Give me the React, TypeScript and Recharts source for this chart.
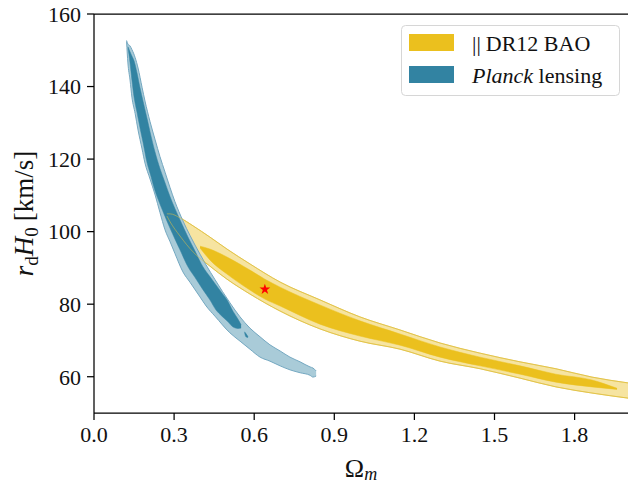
import React from 'react';
import { ComposedChart, Area, Scatter, XAxis, YAxis, ZAxis, ReferenceLine, Legend } from 'recharts';

// ---- BAO (yellow) contours ----
const BAO_OUTER_X = [0.273, 0.285, 0.322, 0.371, 0.434, 0.498, 0.584, 0.697, 0.846, 0.996, 1.146, 1.296, 1.446, 1.596, 1.73, 1.865, 2.0];
const BAO_OUTER_HI = [104.9, 104.9, 103.8, 101.6, 98.5, 95.2, 91.1, 86.1, 81.2, 76.5, 72.9, 69.3, 66.5, 64.1, 62.2, 59.9, 58.3];
const BAO_OUTER_LO = [104.3, 102.7, 98.8, 94.4, 90.5, 86.9, 82.8, 78.1, 73.2, 69.8, 67.6, 64.3, 62.2, 59.6, 57.2, 55.5, 54.1];

const BAO_INNER_X = [0.397, 0.434, 0.498, 0.584, 0.64, 0.697, 0.846, 0.996, 1.146, 1.296, 1.446, 1.596, 1.73, 1.865, 1.959];
const BAO_INNER_HI = [96.0, 95.2, 93.0, 89.4, 86.9, 84.7, 79.8, 75.4, 71.8, 68.2, 65.4, 63.0, 60.7, 59.1, 56.8];
const BAO_INNER_LO = [95.5, 92.2, 88.3, 83.9, 81.4, 79.5, 74.5, 71.2, 68.7, 65.4, 63.0, 60.7, 58.5, 57.2, 56.5];

// ---- Planck lensing (blue) contours ----
const LENS_OUTER_X = [0.122, 0.127, 0.135, 0.142, 0.154, 0.165, 0.18, 0.191, 0.21, 0.229, 0.247, 0.266, 0.285, 0.303, 0.333, 0.36, 0.397, 0.42, 0.453, 0.509, 0.547, 0.584, 0.622, 0.659, 0.697, 0.734, 0.772, 0.809, 0.82, 0.832];
const LENS_OUTER_HI = [152.7, 151.7, 151.2, 150.2, 148.0, 145.1, 139.8, 136.0, 130.3, 125.3, 120.7, 116.4, 112.1, 108.3, 103.0, 98.9, 93.8, 90.8, 86.8, 80.4, 76.5, 73.4, 71.0, 68.8, 67.1, 65.4, 64.1, 62.7, 62.4, 61.6];
const LENS_OUTER_LO = [152.4, 146.5, 141.8, 137.1, 132.6, 128.0, 122.8, 118.9, 114.5, 110.1, 105.3, 100.5, 97.2, 94.0, 88.9, 86.0, 82.0, 79.5, 76.7, 72.1, 69.8, 67.6, 65.4, 64.3, 63.0, 61.9, 61.1, 60.4, 59.9, 60.2];

const LENS_INNER_X = [0.127, 0.135, 0.142, 0.15, 0.161, 0.172, 0.184, 0.199, 0.21, 0.228, 0.247, 0.266, 0.285, 0.303, 0.322, 0.352, 0.378, 0.408, 0.434, 0.457, 0.479, 0.498, 0.521, 0.539, 0.551];
const LENS_INNER_HI = [151.0, 149.6, 148.4, 147.1, 143.8, 139.8, 135.9, 131.1, 127.5, 122.1, 117.4, 113.5, 109.6, 106.4, 103.3, 98.5, 94.7, 90.3, 87.6, 85.3, 83.1, 81.2, 78.0, 75.9, 74.3];
const LENS_INNER_LO = [150.8, 146.5, 141.8, 137.1, 132.9, 128.7, 124.5, 118.9, 116.1, 111.4, 107.6, 104.2, 100.9, 98.0, 95.0, 90.3, 87.4, 84.0, 81.2, 78.4, 76.7, 75.4, 73.7, 73.3, 73.4];

const LENS_ISLAND_X = [0.564, 0.569, 0.577];
const LENS_ISLAND_HI = [72.4, 71.9, 71.0];
const LENS_ISLAND_LO = [72.2, 71.0, 70.8];

// ---- best fit point ----
const BEST_X = [0.64];
const BEST_Y = [84.1];

// ---- axes ----
const X_TICKS = [0.0, 0.3, 0.6, 0.9, 1.2, 1.5, 1.8];
const Y_TICKS = [60, 80, 100, 120, 140, 160];
const X_DOMAIN = [0, 2.0];
const Y_DOMAIN = [50, 160];

const LEGEND_LABELS = ['|| DR12 BAO', 'Planck lensing'];

const YELLOW_LIGHT = '#F6E4A1';
const YELLOW_EDGE = '#EDCB52';
const YELLOW_DARK = '#EBC01E';
const BLUE_LIGHT = '#A9CBD8';
const BLUE_EDGE = '#74A8C1';
const BLUE_DARK = '#3283A2';

const FONT = '"Liberation Serif", "DejaVu Serif", serif';

const band = (xs: number[], lo: number[], hi: number[]) =>
  xs.map((x, i) => ({ x, range: [lo[i], hi[i]] }));

const baoOuter = band(BAO_OUTER_X, BAO_OUTER_LO, BAO_OUTER_HI);
const baoInner = band(BAO_INNER_X, BAO_INNER_LO, BAO_INNER_HI);
const lensOuter = band(LENS_OUTER_X, LENS_OUTER_LO, LENS_OUTER_HI);
const lensInner = band(LENS_INNER_X, LENS_INNER_LO, LENS_INNER_HI);
const lensIsland = band(LENS_ISLAND_X, LENS_ISLAND_LO, LENS_ISLAND_HI);
const bestFit = BEST_X.map((x, i) => ({ x, y: BEST_Y[i] }));

const YLabel = (props: any) => {
  const vb = props.viewBox || { x: 0, y: 14, width: 94, height: 399 };
  const cx = vb.x + 33;
  const cy = vb.y + vb.height / 2;
  return (
    <text x={cx} y={cy} transform={`rotate(-90 ${cx} ${cy})`} textAnchor="middle" fontFamily={FONT} fontSize={27} fill="#111">
      <tspan fontStyle="italic">r</tspan>
      <tspan fontSize={19} dy={5}>d</tspan>
      <tspan fontStyle="italic" dy={-5}>H</tspan>
      <tspan fontSize={19} dy={5}>0</tspan>
      <tspan dy={-5} dx={6}>[km/s]</tspan>
    </text>
  );
};

const XLabel = (props: any) => {
  const vb = props.viewBox || { x: 94, y: 413, width: 534, height: 72 };
  const cx = vb.x + vb.width / 2;
  const y = 477;
  return (
    <text x={cx} y={y} textAnchor="middle" fontFamily={FONT} fontSize={26} fill="#111">
      <tspan>Ω</tspan>
      <tspan fontSize={18} fontStyle="italic" dy={3}>m</tspan>
    </text>
  );
};

const LegendBox = () => {
  const colors = [YELLOW_DARK, BLUE_DARK];
  return (
    <svg width={220} height={72} style={{ display: 'block' }}>
      <rect x={0.5} y={0.5} width={218} height={70} rx={4} ry={4} fill="rgba(255,255,255,0.85)" stroke="#d6d6d6" strokeWidth={1} />
      {LEGEND_LABELS.map((label, i) => (
        <g key={label}>
          <rect x={8} y={9 + i * 32} width={45} height={17} fill={colors[i]} />
          <text x={71} y={26 + i * 32} fontFamily={FONT} fontSize={22} fill="#111">
            {i === 1 ? (
              <>
                <tspan fontStyle="italic">Planck</tspan>
                <tspan> lensing</tspan>
              </>
            ) : (
              <>
                <tspan fill="#111">||</tspan>
                <tspan dx={5} fill="#111">DR12 BAO</tspan>
              </>
            )}
          </text>
        </g>
      ))}
    </svg>
  );
};

const tickStyle = { fontFamily: FONT, fontSize: 22, fill: '#111' };

export default function App() {
  return (
    <div style={{ position: 'absolute', left: 0, top: 0, width: 628, height: 485, background: '#fff' }}>
      <ComposedChart width={628} height={485} margin={{ top: 14, right: 0, bottom: 0, left: 0 }}>
        <XAxis
          type="number"
          dataKey="x"
          domain={X_DOMAIN}
          ticks={X_TICKS}
          interval={0}
          allowDataOverflow
          tickFormatter={(v: number) => v.toFixed(1)}
          height={72}
          tickSize={7}
          tickMargin={6}
          stroke="#000"
          axisLine={{ stroke: '#000', strokeWidth: 1.25 }}
          tickLine={{ stroke: '#000', strokeWidth: 1.25 }}
          tick={tickStyle}
          label={<XLabel />}
        />
        <YAxis
          type="number"
          domain={Y_DOMAIN}
          ticks={Y_TICKS}
          interval={0}
          allowDataOverflow
          width={94}
          tickSize={7}
          tickMargin={6}
          stroke="#000"
          axisLine={{ stroke: '#000', strokeWidth: 1.25 }}
          tickLine={{ stroke: '#000', strokeWidth: 1.25 }}
          tick={tickStyle}
          label={<YLabel />}
        />
        <ZAxis range={[36, 36]} />
        <ReferenceLine y={160} stroke="#000" strokeWidth={1.25} ifOverflow="extendDomain" />
        <Area data={baoOuter} dataKey="range" type="monotone" fill={YELLOW_LIGHT} fillOpacity={1} stroke={YELLOW_EDGE} strokeWidth={1} isAnimationActive={false} legendType="none" dot={false} activeDot={false} />
        <Area data={baoInner} dataKey="range" name={LEGEND_LABELS[0]} type="monotone" fill={YELLOW_DARK} fillOpacity={1} stroke={YELLOW_DARK} strokeWidth={0.5} isAnimationActive={false} dot={false} activeDot={false} />
        <Area data={lensOuter} dataKey="range" type="monotone" fill={BLUE_LIGHT} fillOpacity={1} stroke={BLUE_EDGE} strokeWidth={1} isAnimationActive={false} legendType="none" dot={false} activeDot={false} />
        <Area data={lensInner} dataKey="range" name={LEGEND_LABELS[1]} type="monotone" fill={BLUE_DARK} fillOpacity={1} stroke={BLUE_DARK} strokeWidth={0.5} isAnimationActive={false} dot={false} activeDot={false} />
        <Area data={lensIsland} dataKey="range" type="monotone" fill={BLUE_DARK} fillOpacity={1} stroke={BLUE_DARK} strokeWidth={0.5} isAnimationActive={false} legendType="none" dot={false} activeDot={false} />
        <Area data={baoOuter} dataKey="range" type="monotone" fill="none" stroke="#D9BE45" strokeOpacity={0.55} strokeWidth={1} isAnimationActive={false} legendType="none" dot={false} activeDot={false} />
        <Scatter data={bestFit} dataKey="y" fill="#FF0000" shape="star" isAnimationActive={false} legendType="none" />
        <Legend
          layout="horizontal"
          verticalAlign="middle"
          align="center"
          content={<LegendBox />}
          wrapperStyle={{ position: 'absolute', left: 401, top: 25, width: 220, height: 72 }}
        />
      </ComposedChart>
    </div>
  );
}
